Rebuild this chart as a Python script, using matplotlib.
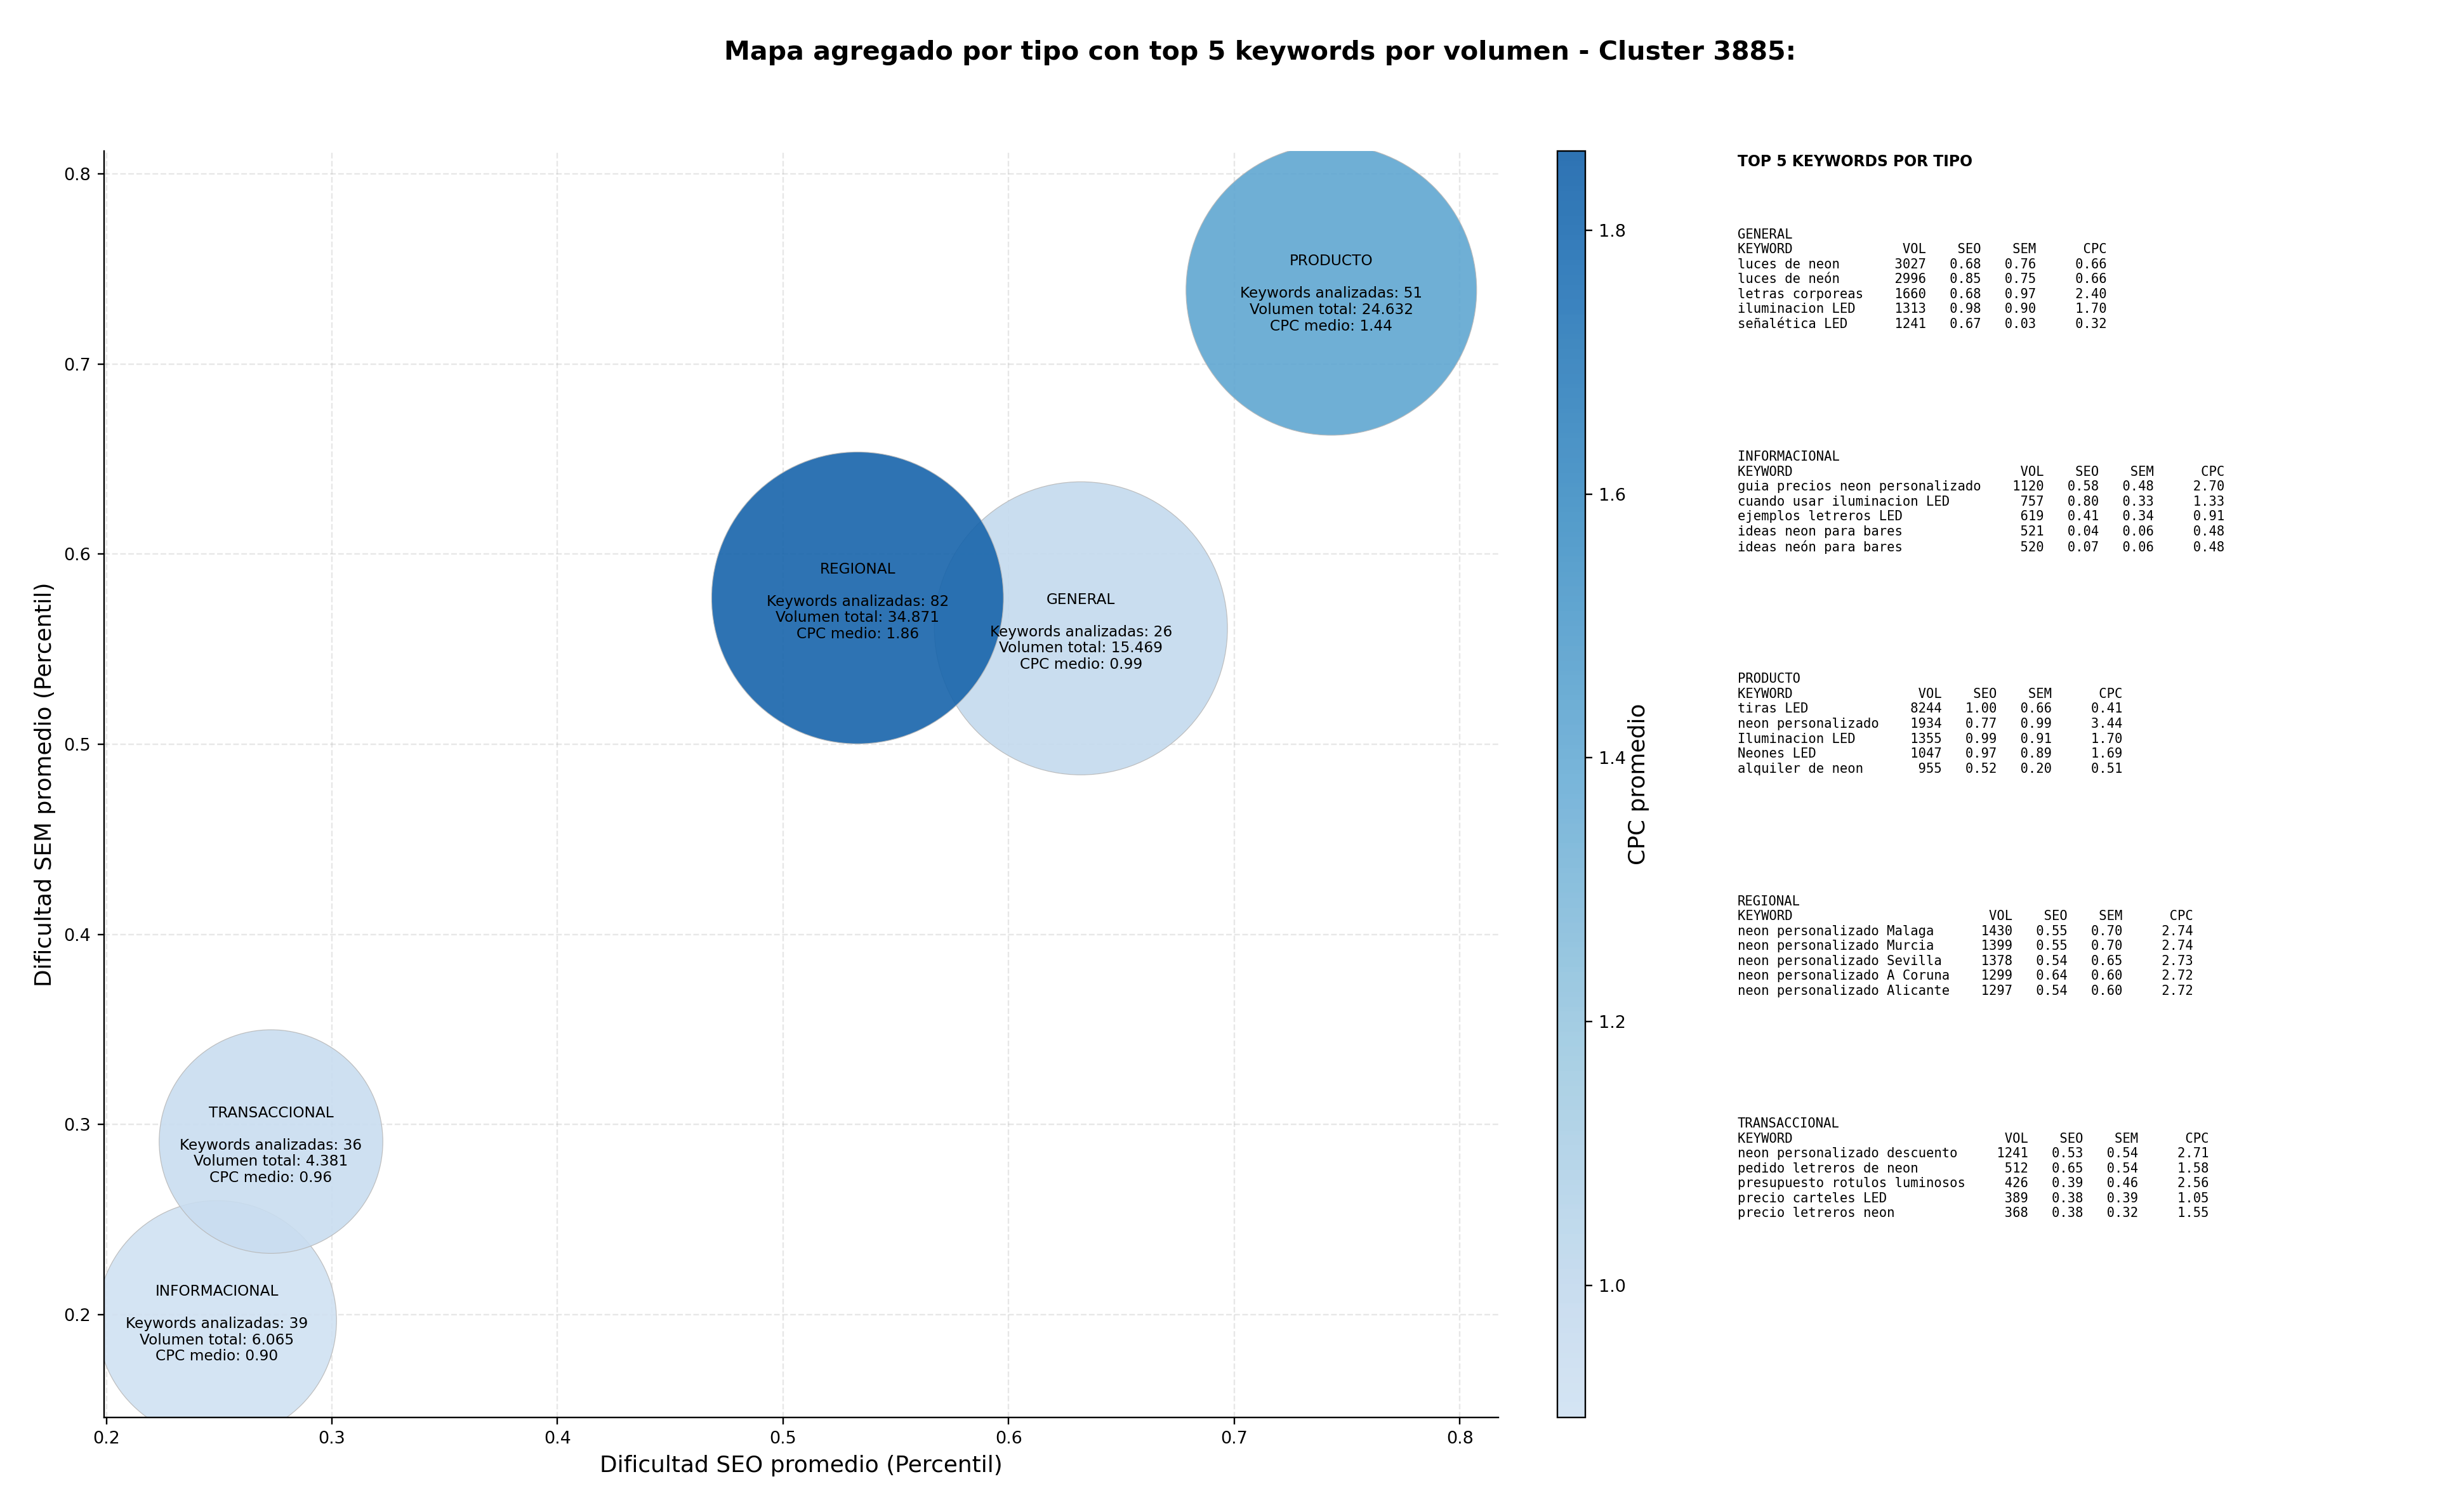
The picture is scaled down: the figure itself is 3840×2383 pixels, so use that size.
import numpy as np
import matplotlib.pyplot as plt
from matplotlib.colors import LinearSegmentedColormap

# datos agregados por tipo
tipos = ["GENERAL", "INFORMACIONAL", "PRODUCTO", "REGIONAL", "TRANSACCIONAL"]
n_keywords = [26, 39, 51, 82, 36]
vol_total = [15469, 6065, 24632, 34871, 4381]
cpc_medio = [0.99, 0.90, 1.44, 1.86, 0.96]
seo_medio = [0.632, 0.249, 0.743, 0.533, 0.273]
sem_medio = [0.561, 0.197, 0.739, 0.577, 0.291]
bubble_size = [23700, 15800, 23300, 23500, 13800]

# top 5 keywords por tipo: keyword, vol, seo, sem, cpc
top_kw = {
    "GENERAL": ["luces de neon", "luces de neón", "letras corporeas", "iluminacion LED", "señalética LED"],
    "INFORMACIONAL": ["guia precios neon personalizado", "cuando usar iluminacion LED", "ejemplos letreros LED",
                      "ideas neon para bares", "ideas neón para bares"],
    "PRODUCTO": ["tiras LED", "neon personalizado", "Iluminacion LED", "Neones LED", "alquiler de neon"],
    "REGIONAL": ["neon personalizado Malaga", "neon personalizado Murcia", "neon personalizado Sevilla",
                 "neon personalizado A Coruna", "neon personalizado Alicante"],
    "TRANSACCIONAL": ["neon personalizado descuento", "pedido letreros de neon", "presupuesto rotulos luminosos",
                      "precio carteles LED", "precio letreros neon"],
}
top_vol = {
    "GENERAL": [3027, 2996, 1660, 1313, 1241],
    "INFORMACIONAL": [1120, 757, 619, 521, 520],
    "PRODUCTO": [8244, 1934, 1355, 1047, 955],
    "REGIONAL": [1430, 1399, 1378, 1299, 1297],
    "TRANSACCIONAL": [1241, 512, 426, 389, 368],
}
top_seo = {
    "GENERAL": [0.68, 0.85, 0.68, 0.98, 0.67],
    "INFORMACIONAL": [0.58, 0.80, 0.41, 0.04, 0.07],
    "PRODUCTO": [1.00, 0.77, 0.99, 0.97, 0.52],
    "REGIONAL": [0.55, 0.55, 0.54, 0.64, 0.54],
    "TRANSACCIONAL": [0.53, 0.65, 0.39, 0.38, 0.38],
}
top_sem = {
    "GENERAL": [0.76, 0.75, 0.97, 0.90, 0.03],
    "INFORMACIONAL": [0.48, 0.33, 0.34, 0.06, 0.06],
    "PRODUCTO": [0.66, 0.99, 0.91, 0.89, 0.20],
    "REGIONAL": [0.70, 0.70, 0.65, 0.60, 0.60],
    "TRANSACCIONAL": [0.54, 0.54, 0.46, 0.39, 0.32],
}
top_cpc = {
    "GENERAL": [0.66, 0.66, 2.40, 1.70, 0.32],
    "INFORMACIONAL": [2.70, 1.33, 0.91, 0.48, 0.48],
    "PRODUCTO": [0.41, 3.44, 1.70, 1.69, 0.51],
    "REGIONAL": [2.74, 2.74, 2.73, 2.72, 2.72],
    "TRANSACCIONAL": [2.71, 1.58, 2.56, 1.05, 1.55],
}

DPI = 216
fig = plt.figure(figsize=(3840 / DPI, 2383 / DPI), dpi=DPI)
ax = fig.add_axes([0.0427, 0.0627, 0.5721, 0.8373])

cmap = LinearSegmentedColormap.from_list("blues_cut", plt.cm.Blues(np.linspace(0.2, 0.8, 256)))
sc = ax.scatter(seo_medio, sem_medio, s=bubble_size, c=cpc_medio, cmap=cmap,
                vmin=min(cpc_medio), vmax=max(cpc_medio), alpha=0.9,
                edgecolors="#b8b8b8", linewidths=0.4, zorder=2)

for i, t in enumerate(tipos):
    vol_str = f"{vol_total[i]:,}".replace(",", ".")
    txt = f"{t}\n\nKeywords analizadas: {n_keywords[i]}\nVolumen total: {vol_str}\nCPC medio: {cpc_medio[i]:.2f}"
    ax.text(seo_medio[i], sem_medio[i] - 0.002, txt, ha="center", va="center", fontsize=7.75,
            linespacing=1.14, zorder=3)

ax.set_xlim(0.199, 0.817)
ax.set_ylim(0.146, 0.812)
ax.set_xlabel("Dificultad SEO promedio (Percentil)", fontsize=12)
ax.set_ylabel("Dificultad SEM promedio (Percentil)", fontsize=12)
ax.tick_params(labelsize=9)
ax.grid(True, linestyle="--", alpha=0.3, zorder=0)
ax.set_axisbelow(True)
ax.spines["top"].set_visible(False)
ax.spines["right"].set_visible(False)

cax = fig.add_axes([0.639, 0.0627, 0.0115, 0.8373])
cb = fig.colorbar(sc, cax=cax)
cb.set_label("CPC promedio", fontsize=12, labelpad=1)
cb.ax.tick_params(labelsize=9)

fig.text(0.517, 0.965, "Mapa agregado por tipo con top 5 keywords por volumen - Cluster 3885:",
         ha="center", va="center", fontsize=13.7, fontweight="bold")

# panel de texto con top keywords
fig.text(0.713, 0.898, "TOP 5 KEYWORDS POR TIPO", fontsize=7.85, fontweight="bold", va="top")
for j, t in enumerate(tipos):
    L = max(len(k) for k in top_kw[t])
    lines = [t, f"{'KEYWORD':<{L}}{'VOL':>8}{'SEO':>7}{'SEM':>7}{'CPC':>9}"]
    for k, v, s1, s2, c in zip(top_kw[t], top_vol[t], top_seo[t], top_sem[t], top_cpc[t]):
        lines.append(f"{k:<{L}}{v:>8}{s1:>7.2f}{s2:>7.2f}{c:>9.2f}")
    fig.text(0.713, 0.849 - j * 0.147, "\n".join(lines), family="monospace", fontsize=6.85,
             linespacing=1.22, va="top")

fig.savefig("out.png", dpi=DPI)
